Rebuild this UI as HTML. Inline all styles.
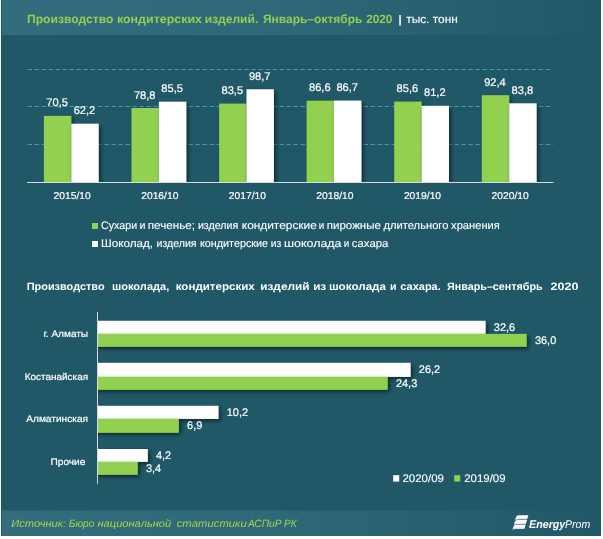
<!DOCTYPE html>
<html lang="ru"><head><meta charset="utf-8"><title>Производство кондитерских изделий</title>
<style>html,body{margin:0;padding:0;background:#fff;}svg{display:block;}text{font-family:"Liberation Sans",sans-serif;fill:#ffffff;text-rendering:geometricPrecision;}.v{font-size:11px;stroke:#fff;stroke-width:0.2px;}.c{font-size:9.6px;stroke:#fff;stroke-width:0.2px;}.l{font-size:11.1px;stroke:#fff;stroke-width:0.12px;}.t1{font-size:12px;font-weight:bold;fill:#92d050;}.t2{font-size:10.7px;font-weight:bold;}.src{font-size:10.6px;font-style:italic;fill:#a2d84b;}</style></head><body>
<svg width="603" height="539" viewBox="0 0 603 539">
<defs>
<linearGradient id="hg" x1="0" y1="0" x2="1" y2="0"><stop offset="0" stop-color="#336c7c"/><stop offset="0.45" stop-color="#2f6878"/><stop offset="1" stop-color="#215868"/></linearGradient>
<filter id="sh" x="-50%" y="-50%" width="220%" height="220%"><feGaussianBlur in="SourceAlpha" stdDeviation="1.9"/><feOffset dx="2.4" dy="2.4"/><feComponentTransfer><feFuncA type="linear" slope="0.55"/></feComponentTransfer><feMerge><feMergeNode/><feMergeNode in="SourceGraphic"/></feMerge></filter>
<clipPath id="c1"><rect x="27" y="40" width="540" height="142"/></clipPath>
<clipPath id="c2"><rect x="98" y="300" width="500" height="190"/></clipPath>
<linearGradient id="lg" x1="0" y1="0" x2="0" y2="1"><stop offset="0.5" stop-color="#fff"/><stop offset="1" stop-color="#b4c7ce"/></linearGradient>
</defs>
<rect x="0" y="0" width="603" height="539" fill="#fff"/>
<rect x="1" y="0" width="600" height="536" fill="#215868"/>
<rect x="1" y="0" width="600" height="35" fill="url(#hg)"/>
<rect x="1" y="510.5" width="600" height="25.5" fill="url(#hg)"/>
<rect x="1" y="0" width="1" height="536" fill="#1d5261" opacity="0.7"/>
<text x="27.0" y="22.9" class="t1" textLength="86.4" lengthAdjust="spacingAndGlyphs">Производство</text>
<text x="116.9" y="22.9" class="t1" textLength="85.1" lengthAdjust="spacingAndGlyphs">кондитерских</text>
<text x="204.7" y="22.9" class="t1" textLength="53.6" lengthAdjust="spacingAndGlyphs">изделий.</text>
<text x="262.9" y="22.9" class="t1" textLength="99.5" lengthAdjust="spacingAndGlyphs">Январь–октябрь</text>
<text x="366.2" y="22.9" class="t1" textLength="26.2" lengthAdjust="spacingAndGlyphs">2020</text>
<text x="398.6" y="22.7" class="l" style="font-size:11px;font-weight:bold">|</text>
<text x="406.2" y="22.9" class="l" textLength="51.6" lengthAdjust="spacingAndGlyphs" style="font-size:11.5px">тыс. тонн</text>
<line x1="27.5" y1="69.5" x2="553" y2="69.5" stroke="#409bb4" stroke-width="1" stroke-dasharray="4.5 2.5"/>
<line x1="27.5" y1="106.5" x2="553" y2="106.5" stroke="#409bb4" stroke-width="1" stroke-dasharray="4.5 2.5"/>
<line x1="27.5" y1="144.5" x2="553" y2="144.5" stroke="#409bb4" stroke-width="1" stroke-dasharray="4.5 2.5"/>
<g clip-path="url(#c1)">
<rect x="43.9" y="115.9" width="27.4" height="72.4" fill="#92d050" filter="url(#sh)"/>
<rect x="71.3" y="123.7" width="27.4" height="64.6" fill="#ffffff" filter="url(#sh)"/>
<rect x="131.5" y="108.0" width="27.4" height="80.3" fill="#92d050" filter="url(#sh)"/>
<rect x="158.9" y="101.7" width="27.4" height="86.6" fill="#ffffff" filter="url(#sh)"/>
<rect x="219.1" y="103.6" width="27.4" height="84.7" fill="#92d050" filter="url(#sh)"/>
<rect x="246.5" y="89.3" width="27.4" height="99.0" fill="#ffffff" filter="url(#sh)"/>
<rect x="306.6" y="100.7" width="27.4" height="87.6" fill="#92d050" filter="url(#sh)"/>
<rect x="334.0" y="100.6" width="27.4" height="87.7" fill="#ffffff" filter="url(#sh)"/>
<rect x="394.2" y="101.6" width="27.4" height="86.7" fill="#92d050" filter="url(#sh)"/>
<rect x="421.6" y="105.8" width="27.4" height="82.5" fill="#ffffff" filter="url(#sh)"/>
<rect x="481.8" y="95.2" width="27.4" height="93.1" fill="#92d050" filter="url(#sh)"/>
<rect x="509.2" y="103.3" width="27.4" height="85.0" fill="#ffffff" filter="url(#sh)"/>
</g>
<line x1="27" y1="182.5" x2="553.5" y2="182.5" stroke="#d9d9d9" stroke-width="1"/>
<text x="57.1" y="106.4" class="v" textLength="21.6" lengthAdjust="spacingAndGlyphs" text-anchor="middle">70,5</text>
<text x="84.5" y="114.2" class="v" textLength="21.6" lengthAdjust="spacingAndGlyphs" text-anchor="middle">62,2</text>
<text x="72.2" y="199.0" class="c" textLength="37.2" lengthAdjust="spacingAndGlyphs" text-anchor="middle" style="font-size:9.9px">2015/10</text>
<text x="144.7" y="98.5" class="v" textLength="21.6" lengthAdjust="spacingAndGlyphs" text-anchor="middle">78,8</text>
<text x="172.1" y="92.2" class="v" textLength="21.6" lengthAdjust="spacingAndGlyphs" text-anchor="middle">85,5</text>
<text x="159.8" y="199.0" class="c" textLength="37.2" lengthAdjust="spacingAndGlyphs" text-anchor="middle" style="font-size:9.9px">2016/10</text>
<text x="232.3" y="94.1" class="v" textLength="21.6" lengthAdjust="spacingAndGlyphs" text-anchor="middle">83,5</text>
<text x="259.7" y="79.8" class="v" textLength="21.6" lengthAdjust="spacingAndGlyphs" text-anchor="middle">98,7</text>
<text x="247.4" y="199.0" class="c" textLength="37.2" lengthAdjust="spacingAndGlyphs" text-anchor="middle" style="font-size:9.9px">2017/10</text>
<text x="319.8" y="91.2" class="v" textLength="21.6" lengthAdjust="spacingAndGlyphs" text-anchor="middle">86,6</text>
<text x="347.2" y="91.1" class="v" textLength="21.6" lengthAdjust="spacingAndGlyphs" text-anchor="middle">86,7</text>
<text x="334.9" y="199.0" class="c" textLength="37.2" lengthAdjust="spacingAndGlyphs" text-anchor="middle" style="font-size:9.9px">2018/10</text>
<text x="407.4" y="92.1" class="v" textLength="21.6" lengthAdjust="spacingAndGlyphs" text-anchor="middle">85,6</text>
<text x="434.8" y="96.3" class="v" textLength="21.6" lengthAdjust="spacingAndGlyphs" text-anchor="middle">81,2</text>
<text x="422.5" y="199.0" class="c" textLength="37.2" lengthAdjust="spacingAndGlyphs" text-anchor="middle" style="font-size:9.9px">2019/10</text>
<text x="495.0" y="85.7" class="v" textLength="21.6" lengthAdjust="spacingAndGlyphs" text-anchor="middle">92,4</text>
<text x="522.4" y="93.8" class="v" textLength="21.6" lengthAdjust="spacingAndGlyphs" text-anchor="middle">83,8</text>
<text x="510.1" y="199.0" class="c" textLength="37.2" lengthAdjust="spacingAndGlyphs" text-anchor="middle" style="font-size:9.9px">2020/10</text>
<rect x="92" y="223" width="6" height="6" fill="#92d050"/>
<rect x="92" y="241" width="6" height="6" fill="#ffffff"/>
<text x="101.1" y="229.1" class="l" textLength="36.0" lengthAdjust="spacingAndGlyphs">Сухари</text>
<text x="139.4" y="229.1" class="l" textLength="6.0" lengthAdjust="spacingAndGlyphs">и</text>
<text x="147.8" y="229.1" class="l" textLength="47.1" lengthAdjust="spacingAndGlyphs">печенье;</text>
<text x="197.9" y="229.1" class="l" textLength="40.5" lengthAdjust="spacingAndGlyphs">изделия</text>
<text x="241.8" y="229.1" class="l" textLength="75.0" lengthAdjust="spacingAndGlyphs">кондитерские</text>
<text x="318.8" y="229.1" class="l" textLength="5.5" lengthAdjust="spacingAndGlyphs">и</text>
<text x="326.8" y="229.1" class="l" textLength="54.1" lengthAdjust="spacingAndGlyphs">пирожные</text>
<text x="383.5" y="229.1" class="l" textLength="64.9" lengthAdjust="spacingAndGlyphs">длительного</text>
<text x="451.1" y="229.1" class="l" textLength="48.7" lengthAdjust="spacingAndGlyphs">хранения</text>
<text x="101.1" y="247.0" class="l" textLength="52.0" lengthAdjust="spacingAndGlyphs">Шоколад,</text>
<text x="156.5" y="247.0" class="l" textLength="40.1" lengthAdjust="spacingAndGlyphs">изделия</text>
<text x="200.0" y="247.0" class="l" textLength="68.0" lengthAdjust="spacingAndGlyphs">кондитерские</text>
<text x="270.7" y="247.0" class="l" textLength="10.6" lengthAdjust="spacingAndGlyphs">из</text>
<text x="284.0" y="247.0" class="l" textLength="57.5" lengthAdjust="spacingAndGlyphs">шоколада</text>
<text x="343.8" y="247.0" class="l" textLength="5.5" lengthAdjust="spacingAndGlyphs">и</text>
<text x="351.8" y="247.0" class="l" textLength="36.6" lengthAdjust="spacingAndGlyphs">сахара</text>
<text x="26.7" y="289.9" class="t2" textLength="77.9" lengthAdjust="spacingAndGlyphs">Производство</text>
<text x="112.0" y="289.9" class="t2" textLength="57.3" lengthAdjust="spacingAndGlyphs">шоколада,</text>
<text x="175.7" y="289.9" class="t2" textLength="79.1" lengthAdjust="spacingAndGlyphs">кондитерских</text>
<text x="260.2" y="289.9" class="t2" textLength="49.4" lengthAdjust="spacingAndGlyphs">изделий</text>
<text x="313.2" y="289.9" class="t2" textLength="13.0" lengthAdjust="spacingAndGlyphs">из</text>
<text x="328.9" y="289.9" class="t2" textLength="57.1" lengthAdjust="spacingAndGlyphs">шоколада</text>
<text x="390.1" y="289.9" class="t2" textLength="6.5" lengthAdjust="spacingAndGlyphs">и</text>
<text x="400.3" y="289.9" class="t2" textLength="40.5" lengthAdjust="spacingAndGlyphs">сахара.</text>
<text x="447.1" y="289.9" class="t2" textLength="95.5" lengthAdjust="spacingAndGlyphs">Январь–сентябрь</text>
<text x="550.5" y="289.9" class="t2" textLength="28.0" lengthAdjust="spacingAndGlyphs">2020</text>
<g clip-path="url(#c2)">
<rect x="91.8" y="320.8" width="393.8" height="13.1" fill="#ffffff" filter="url(#sh)"/>
<rect x="91.8" y="333.9" width="434.9" height="12.9" fill="#92d050" filter="url(#sh)"/>
<rect x="91.8" y="362.8" width="318.8" height="14.1" fill="#ffffff" filter="url(#sh)"/>
<rect x="91.8" y="376.9" width="295.9" height="12.9" fill="#92d050" filter="url(#sh)"/>
<rect x="91.8" y="405.8" width="126.7" height="13.1" fill="#ffffff" filter="url(#sh)"/>
<rect x="91.8" y="418.9" width="87.1" height="13.9" fill="#92d050" filter="url(#sh)"/>
<rect x="91.8" y="449.0" width="56.0" height="12.9" fill="#ffffff" filter="url(#sh)"/>
<rect x="91.8" y="461.9" width="46.0" height="12.9" fill="#92d050" filter="url(#sh)"/>
</g>
<line x1="97.5" y1="312" x2="97.5" y2="483.8" stroke="#d9d9d9" stroke-width="1"/>
<text x="43.4" y="336.9" class="c" textLength="44.7" lengthAdjust="spacingAndGlyphs">г. Алматы</text>
<text x="493.8" y="331.0" class="v" textLength="21.4" lengthAdjust="spacingAndGlyphs">32,6</text>
<text x="534.9" y="344.1" class="v" textLength="21.4" lengthAdjust="spacingAndGlyphs">36,0</text>
<text x="24.7" y="379.7" class="c" textLength="63.4" lengthAdjust="spacingAndGlyphs">Костанайская</text>
<text x="418.8" y="373.0" class="v" textLength="21.4" lengthAdjust="spacingAndGlyphs">26,2</text>
<text x="395.9" y="387.1" class="v" textLength="21.4" lengthAdjust="spacingAndGlyphs">24,3</text>
<text x="26.2" y="421.9" class="c" textLength="61.9" lengthAdjust="spacingAndGlyphs">Алматинская</text>
<text x="226.7" y="416.0" class="v" textLength="21.4" lengthAdjust="spacingAndGlyphs">10,2</text>
<text x="187.1" y="429.1" class="v" textLength="15.2" lengthAdjust="spacingAndGlyphs">6,9</text>
<text x="50.5" y="464.7" class="c" textLength="34.9" lengthAdjust="spacingAndGlyphs">Прочие</text>
<text x="156.0" y="459.2" class="v" textLength="15.2" lengthAdjust="spacingAndGlyphs">4,2</text>
<text x="146.0" y="472.1" class="v" textLength="15.2" lengthAdjust="spacingAndGlyphs">3,4</text>
<rect x="393.2" y="475.2" width="6" height="6.4" fill="#ffffff"/>
<rect x="454.2" y="475.2" width="6" height="6.4" fill="#92d050"/>
<text x="402.5" y="481.8" class="l" textLength="41.4" lengthAdjust="spacingAndGlyphs">2020/09</text>
<text x="464.2" y="481.8" class="l" textLength="41.4" lengthAdjust="spacingAndGlyphs">2019/09</text>
<text x="11.3" y="526.8" class="src" textLength="54.9" lengthAdjust="spacingAndGlyphs">Источник:</text>
<text x="68.8" y="526.8" class="src" textLength="25.5" lengthAdjust="spacingAndGlyphs">Бюро</text>
<text x="97.5" y="526.8" class="src" textLength="73.7" lengthAdjust="spacingAndGlyphs">национальной</text>
<text x="176.7" y="526.8" class="src" textLength="70.1" lengthAdjust="spacingAndGlyphs">статистики</text>
<text x="248.0" y="526.8" class="src" textLength="33.6" lengthAdjust="spacingAndGlyphs">АСПиР</text>
<text x="284.0" y="526.8" class="src" textLength="12.6" lengthAdjust="spacingAndGlyphs">РК</text>
<g fill="url(#lg)">
<path transform="translate(-0.0 0.0)" d="M515.1 520.3 Q516 515.2 518.6 515.2 L528.4 515.2 L526.9 519.4 L518.6 519.4 Q516.6 519.4 515.1 520.3 Z"/>
<path transform="translate(-1.3 4.8)" d="M515.1 520.3 Q516 515.2 518.6 515.2 L528.4 515.2 L526.9 519.4 L518.6 519.4 Q516.6 519.4 515.1 520.3 Z"/>
<path transform="translate(-2.6 9.5)" d="M515.1 520.3 Q516 515.2 518.6 515.2 L528.4 515.2 L526.9 519.4 L518.6 519.4 Q516.6 519.4 515.1 520.3 Z"/>
</g>
<text x="529.0" y="528.3" class="lg" textLength="36.3" lengthAdjust="spacingAndGlyphs" style="font-size:11.2px;font-weight:bold;font-style:italic">Energy</text>
<text x="565.0" y="528.3" class="lg" textLength="25.3" lengthAdjust="spacingAndGlyphs" style="font-size:11.2px;font-style:italic">Prom</text>
</svg></body></html>
